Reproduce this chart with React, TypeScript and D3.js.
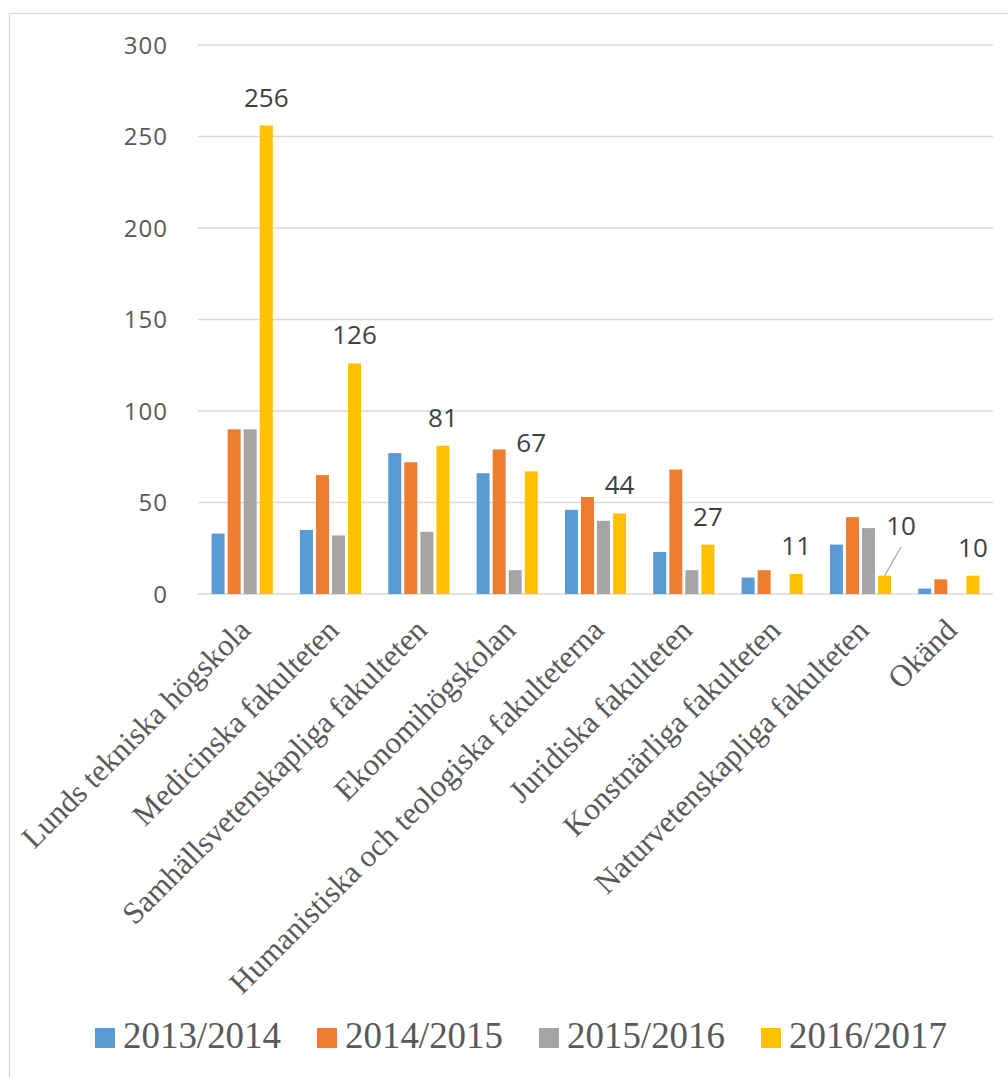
import React from "react";
import * as d3 from "d3";

const categories = [
  "Lunds tekniska högskola",
  "Medicinska fakulteten",
  "Samhällsvetenskapliga fakulteten",
  "Ekonomihögskolan",
  "Humanistiska och teologiska fakulteterna",
  "Juridiska fakulteten",
  "Konstnärliga fakulteten",
  "Naturvetenskapliga fakulteten",
  "Okänd",
];
const seriesNames = ["2013/2014", "2014/2015", "2015/2016", "2016/2017"];
const values2013 = [33, 35, 77, 66, 46, 23, 9, 27, 3];
const values2014 = [90, 65, 72, 79, 53, 68, 13, 42, 8];
const values2015 = [90, 32, 34, 13, 40, 13, 0, 36, 0];
const values2016 = [256, 126, 81, 67, 44, 27, 11, 10, 10];
const yTicks = [0, 50, 100, 150, 200, 250, 300];
const colors = ["#5B9BD5", "#ED7D31", "#A5A5A5", "#FFC000"];
const allSeries = [values2013, values2014, values2015, values2016];

const W = 1008;
const H = 1077;
const left = 198;
const right = 993;
const top = 45;
const bottom = 594;

export default function App() {
  const x0 = d3.scaleBand<string>().domain(categories).range([left, right]).padding(0);
  const bw = x0.bandwidth();
  const groupPad = 13.6;
  const x1 = d3
    .scaleBand<string>()
    .domain(seriesNames)
    .range([groupPad, bw - groupPad])
    .paddingInner(0.19)
    .paddingOuter(0);
  const y = d3.scaleLinear().domain([0, 300]).range([bottom, top]);

  const labelFont = "'Open Sans', 'DejaVu Sans', sans-serif";
  const serif = "'Liberation Serif', 'Times New Roman', serif";

  // manual label offset for the moved label (with leader line)
  const movedIndex = categories.indexOf("Naturvetenskapliga fakulteten");
  const movedDx = 16.5;
  const movedDy = -22;

  return (
    <svg
      width={W}
      height={H}
      style={{ position: "absolute", left: 0, top: 0, display: "block", background: "#fff" }}
    >
      <rect x={9.5} y={13.5} width={1200} height={1200} fill="#fff" stroke="#D9D9D9" strokeWidth={1.3} />
      {/* gridlines */}
      {yTicks.map((t) => (
        <line key={t} x1={left} x2={right} y1={y(t)} y2={y(t)} stroke="#D9D9D9" strokeWidth={1.6} />
      ))}
      {/* y tick labels */}
      {yTicks.map((t) => (
        <text
          key={"yl" + t}
          x={168}
          y={y(t) + 8.5}
          textAnchor="end"
          fontFamily={labelFont}
          fontSize={24}
          fill="#595959"
          letterSpacing={1}
        >
          {t}
        </text>
      ))}
      {/* bars */}
      {categories.map((c, ci) => (
        <g key={c} transform={`translate(${x0(c)},0)`}>
          {allSeries.map((s, si) =>
            s[ci] > 0 ? (
              <rect
                key={si}
                x={x1(seriesNames[si])}
                y={y(s[ci])}
                width={x1.bandwidth()}
                height={y(0) - y(s[ci])}
                fill={colors[si]}
              />
            ) : null
          )}
        </g>
      ))}
      {/* data labels for last series */}
      {categories.map((c, ci) => {
        const v = values2016[ci];
        const cx = (x0(c) as number) + (x1(seriesNames[3]) as number) + x1.bandwidth() / 2;
        const by = y(v);
        const moved = ci === movedIndex;
        const lx = cx + (moved ? movedDx : 0);
        const ly = by - 19 + (moved ? movedDy : 0);
        return (
          <g key={"dl" + c}>
            {moved && (
              <line x1={lx} y1={ly + 12} x2={cx} y2={by} stroke="#A6A6A6" strokeWidth={1.3} />
            )}
            <text x={lx} y={ly} textAnchor="middle" fontFamily={labelFont} fontSize={26} fill="#404040">
              {v}
            </text>
          </g>
        );
      })}
      {/* category labels */}
      {categories.map((c) => {
        const cx = (x0(c) as number) + bw / 2;
        return (
          <text
            key={"cl" + c}
            transform={`translate(${cx + 10},${632}) rotate(-45)`}
            textAnchor="end"
            fontFamily={serif}
            fontSize={31}
            fill="#595959"
          >
            {c}
          </text>
        );
      })}
      {/* legend */}
      {seriesNames.map((s, i) => {
        const lx = 95 + i * 222;
        return (
          <g key={"lg" + s}>
            <rect x={lx} y={1028} width={20} height={20} fill={colors[i]} />
            <text
              x={lx + 28}
              y={1048}
              fontFamily={serif}
              fontSize={37}
              fill="#595959"
              textLength={158}
              lengthAdjust="spacingAndGlyphs"
            >
              {s}
            </text>
          </g>
        );
      })}
    </svg>
  );
}
